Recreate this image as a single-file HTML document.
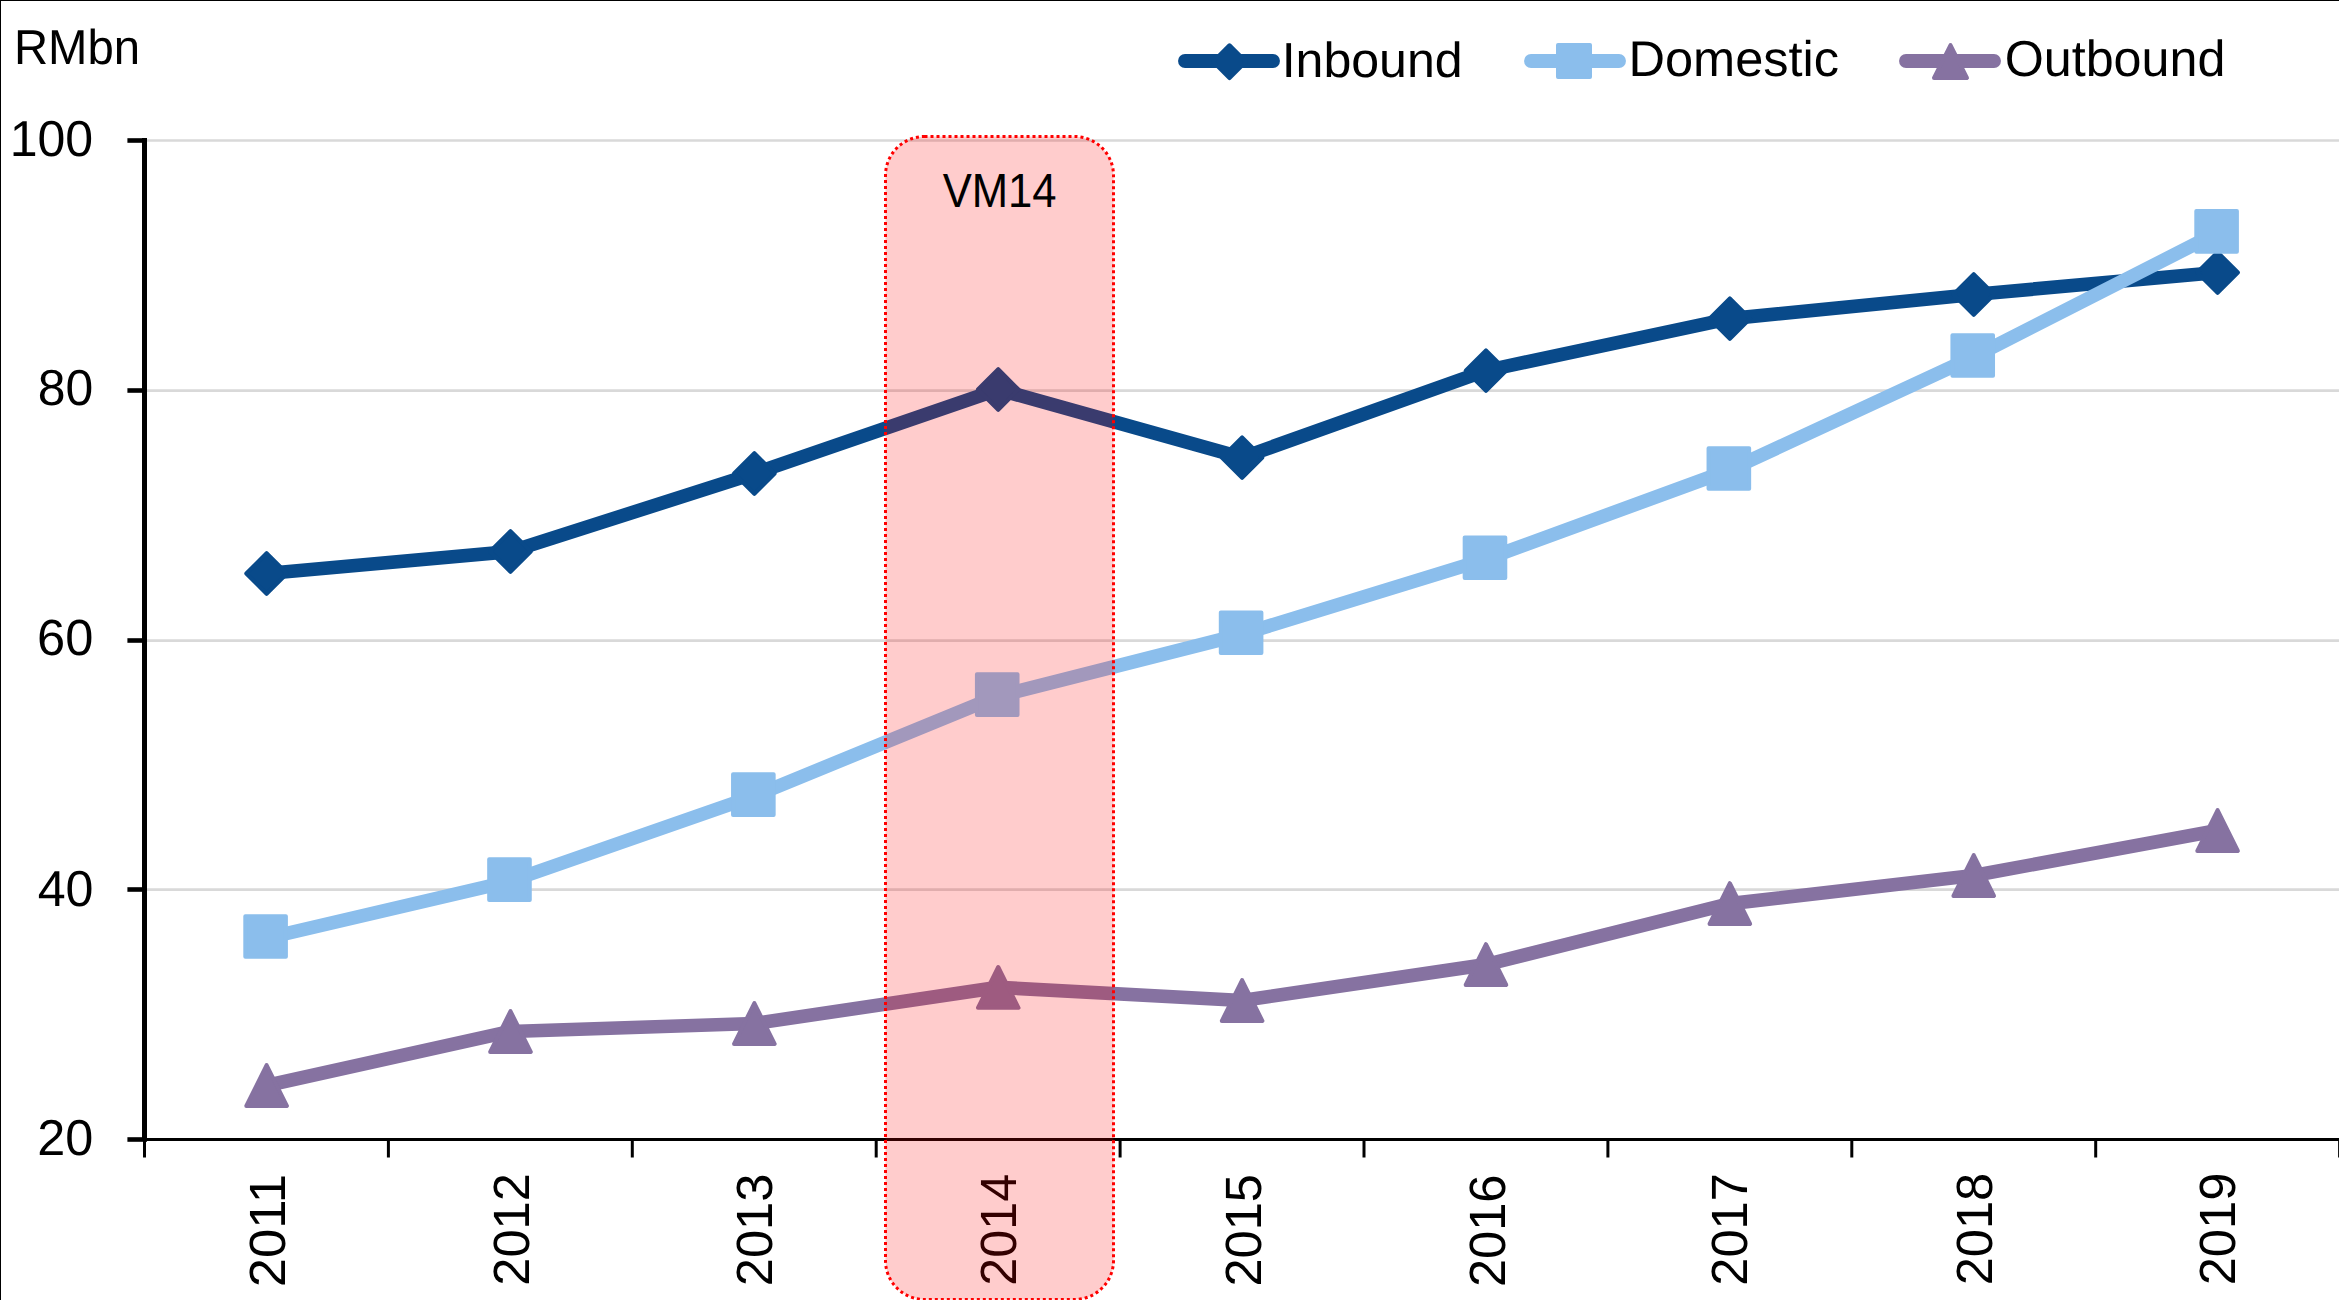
<!DOCTYPE html>
<html><head><meta charset="utf-8"><style>
html,body{margin:0;padding:0;background:#fff;overflow:hidden;}
.wrap{position:relative;width:2339px;height:1300px;}
svg{display:block;position:absolute;left:0;top:0;}
.bd{position:absolute;left:0;top:0;width:2339px;height:1300px;box-sizing:border-box;border-top:1.2px solid #000;border-left:1.2px solid #000;}
</style></head><body><div class="wrap">
<svg width="2339" height="1300" viewBox="0 0 2339 1300">
<rect x="0" y="0" width="2339" height="1300" fill="#fff"/>
<line x1="147" y1="140.5" x2="2339" y2="140.5" stroke="#D9D9D9" stroke-width="2.6"/>
<line x1="147" y1="390.6" x2="2339" y2="390.6" stroke="#D9D9D9" stroke-width="2.6"/>
<line x1="147" y1="640.6" x2="2339" y2="640.6" stroke="#D9D9D9" stroke-width="2.6"/>
<line x1="147" y1="889.6" x2="2339" y2="889.6" stroke="#D9D9D9" stroke-width="2.6"/>
<line x1="144.5" y1="138" x2="144.5" y2="1141" stroke="#000" stroke-width="5"/>
<line x1="127.4" y1="140.5" x2="147" y2="140.5" stroke="#000" stroke-width="4.6"/>
<line x1="127.4" y1="390.5" x2="147" y2="390.5" stroke="#000" stroke-width="4.6"/>
<line x1="127.4" y1="640.5" x2="147" y2="640.5" stroke="#000" stroke-width="4.6"/>
<line x1="127.4" y1="889.5" x2="147" y2="889.5" stroke="#000" stroke-width="4.6"/>
<line x1="127.4" y1="1139.5" x2="147" y2="1139.5" stroke="#000" stroke-width="4.6"/>
<line x1="142" y1="1139.5" x2="2339" y2="1139.5" stroke="#000" stroke-width="3"/>
<line x1="144.5" y1="1138" x2="144.5" y2="1157.5" stroke="#000" stroke-width="3"/>
<line x1="388.4" y1="1138" x2="388.4" y2="1157.5" stroke="#000" stroke-width="3"/>
<line x1="632.3" y1="1138" x2="632.3" y2="1157.5" stroke="#000" stroke-width="3"/>
<line x1="876.2" y1="1138" x2="876.2" y2="1157.5" stroke="#000" stroke-width="3"/>
<line x1="1120.1" y1="1138" x2="1120.1" y2="1157.5" stroke="#000" stroke-width="3"/>
<line x1="1364" y1="1138" x2="1364" y2="1157.5" stroke="#000" stroke-width="3"/>
<line x1="1607.9" y1="1138" x2="1607.9" y2="1157.5" stroke="#000" stroke-width="3"/>
<line x1="1851.8" y1="1138" x2="1851.8" y2="1157.5" stroke="#000" stroke-width="3"/>
<line x1="2095.7" y1="1138" x2="2095.7" y2="1157.5" stroke="#000" stroke-width="3"/>
<line x1="2339.6" y1="1138" x2="2339.6" y2="1157.5" stroke="#000" stroke-width="3"/>
<g transform="matrix(0.981 0 0 0.99 1.942 1.109)" fill="#000"><text x="93" y="156.3" font-family="'Liberation Sans', sans-serif" text-rendering="geometricPrecision" font-size="51" text-anchor="end">100</text></g>
<g transform="matrix(0.979 0 0 0.991 2.185 3.055)" fill="#000"><text x="93" y="406" font-family="'Liberation Sans', sans-serif" text-rendering="geometricPrecision" font-size="51" text-anchor="end">80</text></g>
<g transform="matrix(0.992 0 0 0.996 1.087 1.886)" fill="#000"><text x="93" y="656" font-family="'Liberation Sans', sans-serif" text-rendering="geometricPrecision" font-size="51" text-anchor="end">60</text></g>
<g transform="matrix(0.984 0 0 0.99 1.942 8.879)" fill="#000"><text x="93" y="905.7" font-family="'Liberation Sans', sans-serif" text-rendering="geometricPrecision" font-size="51" text-anchor="end">40</text></g>
<g transform="matrix(0.988 0 0 0.988 1.439 13.288)" fill="#000"><text x="93" y="1155.8" font-family="'Liberation Sans', sans-serif" text-rendering="geometricPrecision" font-size="51" text-anchor="end">20</text></g>
<g transform="matrix(0.928 0 0 0.961 0.003 1.75)" fill="#000"><text x="15" y="64.9" font-family="'Liberation Sans', sans-serif" text-rendering="geometricPrecision" font-size="51">RMbn</text></g>
<g transform="matrix(0.999 0 0 1.031 0.223 -36.674)" fill="#000"><text transform="translate(285.1,1284) rotate(-90)" font-family="'Liberation Sans', sans-serif" text-rendering="geometricPrecision" font-size="51">2011</text></g>
<g transform="matrix(1 0 0 0.992 -0.302 12.018)" fill="#000"><text transform="translate(528.975,1284) rotate(-90)" font-family="'Liberation Sans', sans-serif" text-rendering="geometricPrecision" font-size="51">2012</text></g>
<g transform="matrix(0.999 0 0 0.991 0.007 13.725)" fill="#000"><text transform="translate(772.85,1284) rotate(-90)" font-family="'Liberation Sans', sans-serif" text-rendering="geometricPrecision" font-size="51">2013</text></g>
<g transform="matrix(0.999 0 0 0.985 0.764 20.913)" fill="#000"><text transform="translate(1016.725,1284) rotate(-90)" font-family="'Liberation Sans', sans-serif" text-rendering="geometricPrecision" font-size="51">2014</text></g>
<g transform="matrix(1 0 0 0.992 0.802 12.83)" fill="#000"><text transform="translate(1260.6,1284) rotate(-90)" font-family="'Liberation Sans', sans-serif" text-rendering="geometricPrecision" font-size="51">2015</text></g>
<g transform="matrix(1 0 0 0.992 1.001 13.353)" fill="#000"><text transform="translate(1504.475,1284) rotate(-90)" font-family="'Liberation Sans', sans-serif" text-rendering="geometricPrecision" font-size="51">2016</text></g>
<g transform="matrix(0.999 0 0 0.992 0.609 12.018)" fill="#000"><text transform="translate(1748.35,1284) rotate(-90)" font-family="'Liberation Sans', sans-serif" text-rendering="geometricPrecision" font-size="51">2017</text></g>
<g transform="matrix(0.999 0 0 0.991 1.409 12.807)" fill="#000"><text transform="translate(1992.225,1284) rotate(-90)" font-family="'Liberation Sans', sans-serif" text-rendering="geometricPrecision" font-size="51">2018</text></g>
<g transform="matrix(0.999 0 0 0.993 1.316 10.286)" fill="#000"><text transform="translate(2236.1,1284) rotate(-90)" font-family="'Liberation Sans', sans-serif" text-rendering="geometricPrecision" font-size="51">2019</text></g>
<polyline points="266.6,573.5 510.475,551.5 754.35,473.5 998.225,389.5 1242.1,457.6 1485.975,370.6 1729.85,318.6 1973.725,294.5 2217.6,272.5" fill="none" stroke="#094A8A" stroke-width="13.7" stroke-linejoin="round" stroke-linecap="butt"/>
<g fill="#094A8A" stroke="#094A8A" stroke-linejoin="round">
<path d="M266.6,553.2 L286.9,573.5 L266.6,593.8 L246.3,573.5 Z" stroke-width="4"/>
<path d="M510.475,531.2 L530.775,551.5 L510.475,571.8 L490.175,551.5 Z" stroke-width="4"/>
<path d="M754.35,453.2 L774.65,473.5 L754.35,493.8 L734.05,473.5 Z" stroke-width="4"/>
<path d="M998.225,369.2 L1018.525,389.5 L998.225,409.8 L977.925,389.5 Z" stroke-width="4"/>
<path d="M1242.1,437.3 L1262.4,457.6 L1242.1,477.9 L1221.8,457.6 Z" stroke-width="4"/>
<path d="M1485.975,350.3 L1506.275,370.6 L1485.975,390.9 L1465.675,370.6 Z" stroke-width="4"/>
<path d="M1729.85,298.3 L1750.15,318.6 L1729.85,338.9 L1709.55,318.6 Z" stroke-width="4"/>
<path d="M1973.725,274.2 L1994.025,294.5 L1973.725,314.8 L1953.425,294.5 Z" stroke-width="4"/>
<path d="M2217.6,252.2 L2237.9,272.5 L2217.6,292.8 L2197.3,272.5 Z" stroke-width="4"/>
</g>
<polyline points="265.6,938.3 509.475,881.4 753.35,796.4 997.225,696.4 1241.1,634.5 1484.975,559.5 1728.85,470.3 1972.725,357.3 2216.6,233.2" fill="none" stroke="#8BBEEC" stroke-width="13.7" stroke-linejoin="round" stroke-linecap="butt"/>
<g fill="#8BBEEC" stroke="#8BBEEC" stroke-linejoin="round">
<path d="M245.3,916.2 L285.9,916.2 L285.9,956.8 L245.3,956.8 Z" stroke-width="4"/>
<path d="M489.175,859.3 L529.775,859.3 L529.775,899.9 L489.175,899.9 Z" stroke-width="4"/>
<path d="M733.05,774.3 L773.65,774.3 L773.65,814.9 L733.05,814.9 Z" stroke-width="4"/>
<path d="M976.925,674.3 L1017.525,674.3 L1017.525,714.9 L976.925,714.9 Z" stroke-width="4"/>
<path d="M1220.8,612.4 L1261.4,612.4 L1261.4,653 L1220.8,653 Z" stroke-width="4"/>
<path d="M1464.675,537.4 L1505.275,537.4 L1505.275,578 L1464.675,578 Z" stroke-width="4"/>
<path d="M1708.55,448.2 L1749.15,448.2 L1749.15,488.8 L1708.55,488.8 Z" stroke-width="4"/>
<path d="M1952.425,335.2 L1993.025,335.2 L1993.025,375.8 L1952.425,375.8 Z" stroke-width="4"/>
<path d="M2196.3,211.1 L2236.9,211.1 L2236.9,251.7 L2196.3,251.7 Z" stroke-width="4"/>
</g>
<polyline points="266.6,1085.5 510.475,1031.5 754.35,1023.5 998.225,987.4 1242.1,1000.5 1485.975,964.6 1729.85,903.6 1973.725,875.5 2217.6,830.5" fill="none" stroke="#8672A1" stroke-width="13.7" stroke-linejoin="round" stroke-linecap="butt"/>
<g fill="#8672A1" stroke="#8672A1" stroke-linejoin="round">
<path d="M266.6,1065.1 L286.9,1105.9 L246.3,1105.9 Z" stroke-width="4"/>
<path d="M510.475,1011.1 L530.775,1051.9 L490.175,1051.9 Z" stroke-width="4"/>
<path d="M754.35,1003.1 L774.65,1043.9 L734.05,1043.9 Z" stroke-width="4"/>
<path d="M998.225,967 L1018.525,1007.8 L977.925,1007.8 Z" stroke-width="4"/>
<path d="M1242.1,980.1 L1262.4,1020.9 L1221.8,1020.9 Z" stroke-width="4"/>
<path d="M1485.975,944.2 L1506.275,985 L1465.675,985 Z" stroke-width="4"/>
<path d="M1729.85,883.2 L1750.15,924 L1709.55,924 Z" stroke-width="4"/>
<path d="M1973.725,855.1 L1994.025,895.9 L1953.425,895.9 Z" stroke-width="4"/>
<path d="M2217.6,810.1 L2237.9,850.9 L2197.3,850.9 Z" stroke-width="4"/>
</g>
<line x1="1185" y1="61" x2="1273" y2="61" stroke="#094A8A" stroke-width="13.9" stroke-linecap="round"/>
<g fill="#094A8A" stroke="#094A8A" stroke-linejoin="round"><path d="M1229.5,45.25 L1245.95,61.7 L1229.5,78.15 L1213.05,61.7 Z" stroke-width="4"/></g>
<line x1="1531" y1="61" x2="1619" y2="61" stroke="#8BBEEC" stroke-width="13.9" stroke-linecap="round"/>
<g fill="#8BBEEC" stroke="#8BBEEC" stroke-linejoin="round"><path d="M1558,45 L1590,45 L1590,77 L1558,77 Z" stroke-width="4"/></g>
<line x1="1906" y1="61" x2="1994" y2="61" stroke="#8672A1" stroke-width="13.9" stroke-linecap="round"/>
<g fill="#8672A1" stroke="#8672A1" stroke-linejoin="round"><path d="M1950.5,45.05 L1967,77.95 L1934,77.95 Z" stroke-width="4"/></g>
<g transform="matrix(0.982 0 0 0.965 20.745 2.704)" fill="#000"><text x="1284" y="76.8" font-family="'Liberation Sans', sans-serif" text-rendering="geometricPrecision" font-size="51">Inbound</text></g>
<g transform="matrix(0.991 0 0 0.98 14.08 0.827)" fill="#000"><text x="1629" y="76.8" font-family="'Liberation Sans', sans-serif" text-rendering="geometricPrecision" font-size="51">Domestic</text></g>
<g transform="matrix(0.985 0 0 0.993 31.703 0.202)" fill="#000"><text x="2003" y="76.8" font-family="'Liberation Sans', sans-serif" text-rendering="geometricPrecision" font-size="51">Outbound</text></g>
<rect x="885.5" y="136.5" width="228" height="1163" rx="39" ry="39" fill="rgba(255,0,0,0.2)" stroke="#FF0000" stroke-width="3" stroke-dasharray="3 3"/>
<g transform="matrix(0.908 0 0 1 91.639 -0.4)" fill="#000"><text x="1000" y="207.6" font-family="'Liberation Sans', sans-serif" text-rendering="geometricPrecision" font-size="48" text-anchor="middle">VM14</text></g>
</svg>
<div class="bd"></div>
</div></body></html>
